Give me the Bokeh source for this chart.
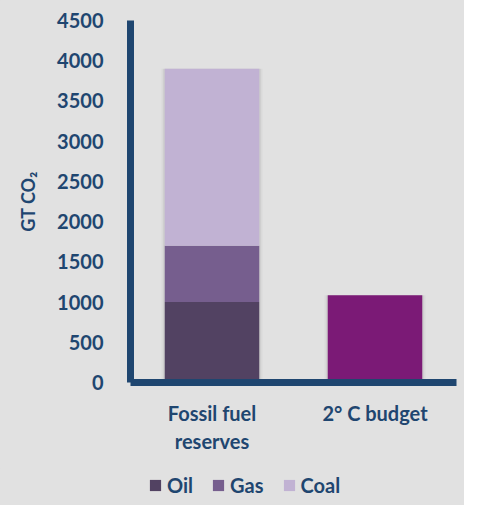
from bokeh.plotting import figure
from bokeh.layouts import column
from bokeh.models import Legend, LegendItem, FixedTicker, ColumnDataSource, Range1d
from bokeh.embed import file_html
from bokeh.resources import INLINE

categories = ["Fossil fuel\nreserves", "2° C budget"]
oil = [1000, 0]
gas = [700, 0]
coal = [2200, 0]
budget = [0, 1085]
y_ticks = [0, 500, 1000, 1500, 2000, 2500, 3000, 3500, 4000, 4500]
series = ["Oil", "Gas", "Coal"]

NAVY = "#1f4670"
BG = "#e1e1e1"
FONT = "Lato"
STACK_COLORS = ["#524262", "#765e8e", "#c1b2d3"]

totals = [o + g + c + b for o, g, c, b in zip(oil, gas, coal, budget)]
src = ColumnDataSource(dict(cat=categories, Oil=oil, Gas=gas, Coal=coal, Budget=budget, Total=totals))

p = figure(x_range=categories, y_range=(0, 4500), width=464, height=468,
           output_backend="svg", toolbar_location=None,
           background_fill_color=BG, border_fill_color=BG, outline_line_color=None,
           min_border_left=130, min_border_right=8, min_border_top=20, min_border_bottom=86)

# soft shadow behind bars
p.vbar(x="cat", top="Total", width=0.62, source=src, color="black", alpha=0.035, line_color=None)
p.vbar(x="cat", top="Total", width=0.60, source=src, color="black", alpha=0.05, line_color=None)

rs = p.vbar_stack(series, x="cat", width=0.58, source=src, color=STACK_COLORS, line_color=None)
rb = p.vbar(x="cat", top="Budget", width=0.58, source=src, color="#7b1a76", line_color=None)

p.grid.visible = False
for ax in (p.xaxis[0], p.yaxis[0]):
    ax.axis_line_color = NAVY
    ax.axis_line_width = 7
    ax.major_tick_line_color = None
    ax.minor_tick_line_color = None
    ax.major_label_text_font = FONT
    ax.major_label_text_font_style = "bold"
    ax.major_label_text_color = NAVY
    ax.major_label_text_font_size = "20px"

p.yaxis.ticker = FixedTicker(ticks=y_ticks)
p.yaxis.major_label_standoff = 21
p.yaxis.axis_label = "GT CO₂"
p.yaxis.axis_label_text_font = FONT
p.yaxis.axis_label_text_font_style = "bold"
p.yaxis.axis_label_text_color = NAVY
p.yaxis.axis_label_text_font_size = "18px"
p.yaxis.axis_label_standoff = 15

p.xaxis.major_label_standoff = 12
p.x_range.range_padding = 0

# separate strip holding the legend (its frame is aligned with the main frame)
p2 = figure(width=464, height=37, output_backend="svg", toolbar_location=None,
            x_range=Range1d(0, 1), y_range=Range1d(0, 1),
            background_fill_color=BG, border_fill_color=BG, outline_line_color=None,
            min_border=0)
p2.axis.visible = False
p2.grid.visible = False
# off-range proxies only used for the legend swatches
dummy = [p2.vbar(x=[-5], top=[-5], width=0.1, color=c, line_color=None) for c in STACK_COLORS]
legend = Legend(items=[LegendItem(label=s, renderers=[r]) for s, r in zip(series, dummy)],
                orientation="horizontal", location=(18, 8),
                background_fill_alpha=0, border_line_color=None,
                label_text_font=FONT, label_text_font_style="bold",
                label_text_color=NAVY, label_text_font_size="20px",
                glyph_width=14, glyph_height=14, label_height=20,
                spacing=18, label_standoff=5, margin=0, padding=0)
p2.add_layout(legend, "center")

layout = column(p, p2, spacing=0, styles={"background-color": BG})
html = file_html(layout, INLINE)
html = html.replace("<body>", '<body style="background-color:#e1e1e1;">', 1)
open("out.html", "w").write(html)
